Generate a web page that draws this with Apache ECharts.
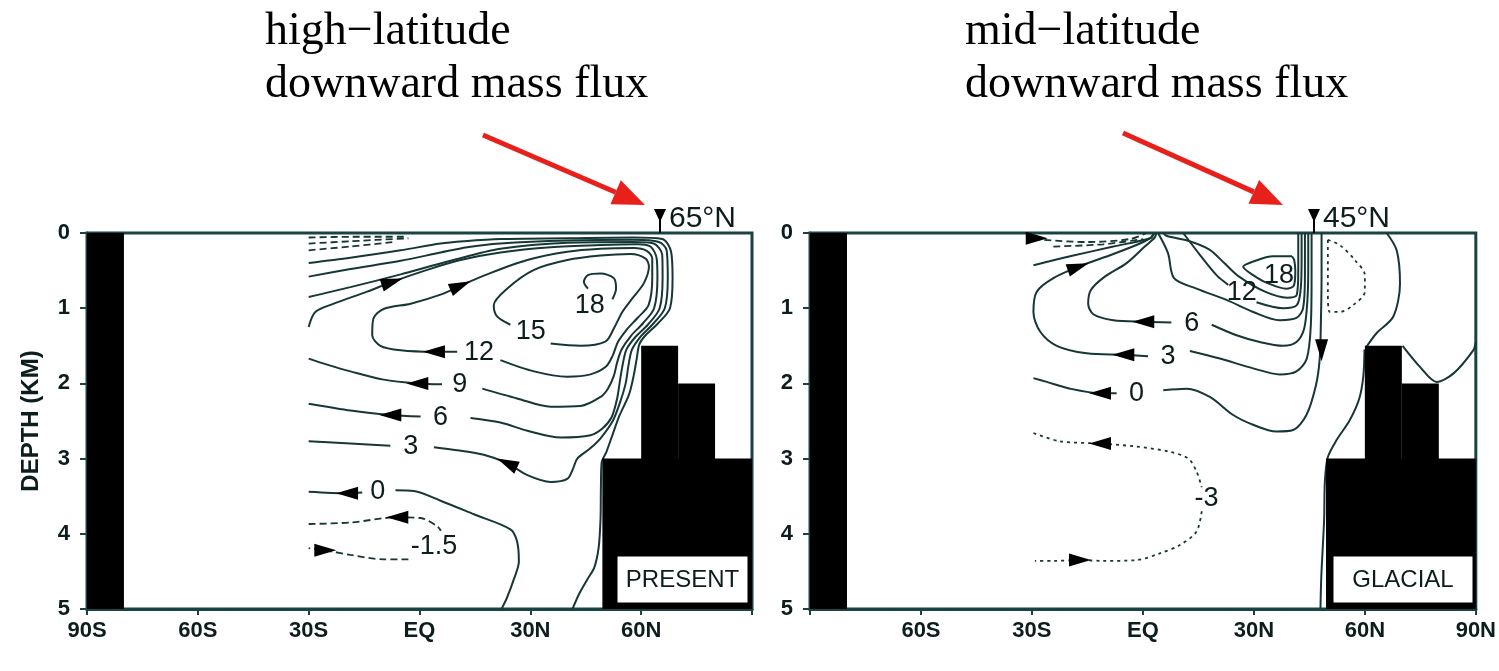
<!DOCTYPE html>
<html>
<head>
<meta charset="utf-8">
<title>Meridional overturning: present vs glacial</title>
<script src="https://cdn.jsdelivr.net/npm/echarts@6/dist/echarts.min.js"></script>
<style>
  html, body { margin: 0; padding: 0; background: #fff; }
  #chart { width: 1499px; height: 671px; }
</style>
</head>
<body>
<div id="chart"></div>
<script>
// latitude in degrees (south negative), depth in km
const latMin = -90, latMax = 90, latStep = 30;
const depthMin = 0, depthMax = 5, depthStep = 1;

// land / sea floor: [latFrom, latTo, depthTop, depthBottom]
const presentTopo = [[-90, -80, 0, 5], [60, 70, 1.5, 5], [70, 80, 2, 5], [49.5, 90, 3, 5]];
const glacialTopo = [[-90, -80, 0, 5], [60, 70, 1.5, 5], [70, 80, 2, 5], [49.5, 90, 3, 5]];

// ---- PRESENT contours (Sv) ----
const presentC18 = [[52.2,0.88],[53.2,0.74],[52.6,0.60],[49.0,0.54],[45.6,0.56],[44.5,0.65],[45.6,0.74]];
const presentC15 = [[35.5,1.47],[43.6,1.50],[50.4,1.44],[52.6,1.27],[54.9,1.05],[57.6,0.87],[60.7,0.67],[62.1,0.45],[61.2,0.34],[57.1,0.28],[49.0,0.30],[40.0,0.36],[31.0,0.49],[23.7,0.74],[20.1,0.96],[21.0,1.11],[24.6,1.22]];
const presentC12 = [[21.9,1.69],[31.0,1.84],[40.0,1.91],[46.3,1.88],[50.4,1.78],[52.3,1.63],[53.7,1.45],[56.0,1.29],[59.0,1.13],[62.0,0.96],[63.0,0.60],[63.0,0.34],[61.6,0.24],[58.0,0.20],[49.0,0.21],[40.0,0.25],[29.2,0.36],[18.3,0.55],[11.1,0.70],[5.7,0.82],[-2.4,0.94],[-9.7,1.01],[-12.5,1.14],[-12.8,1.36],[-10.6,1.50],[-5.1,1.56],[3.9,1.58],[10.2,1.58]];
const presentC9a = [[-30,1.67],[-25,1.75],[-18.7,1.84],[-9.7,1.95],[-0.6,2.00],[6.1,2.01]];
const presentC9b = [[17.0,2.07],[26.4,2.20],[35.5,2.31],[43.6,2.30],[49.0,2.18],[51.0,2.07],[52.6,1.90],[53.5,1.72],[54.7,1.55],[57.2,1.37],[60.5,1.20],[63.5,1.00],[64.4,0.60],[64.2,0.34],[62.5,0.18],[58.9,0.15],[49.0,0.16],[35.5,0.19],[21.9,0.26],[11.1,0.36],[2.1,0.49],[-7.4,0.65],[-14.2,0.78],[-23.2,0.94],[-28.2,1.05],[-30,1.25]];
const presentC6a = [[-30,2.27],[-25,2.31],[-18.7,2.36],[-7.9,2.42],[0.3,2.44]];
const presentC6b = [[13.8,2.46],[21.9,2.52],[29.2,2.63],[38.2,2.72],[46.3,2.69],[49.5,2.60],[52.0,2.45],[53.5,2.20],[54.3,1.95],[55.0,1.75],[56.0,1.55],[58.5,1.38],[61.8,1.22],[65.0,1.00],[65.8,0.60],[65.7,0.29],[63.4,0.14],[58.0,0.12],[40.0,0.13],[21.9,0.21],[8.4,0.37],[-5.1,0.55],[-18.7,0.72],[-30,0.85]];
const presentC3a = [[-30,2.77],[-18.7,2.80],[-7.9,2.83]];
const presentC3b = [[3.9,2.85],[10.2,2.89],[17.4,2.95],[23.7,3.06],[29.2,3.22],[35.5,3.31],[40.0,3.27],[41.6,3.13],[42.7,3.00],[46.3,2.86],[49.0,2.73],[52.3,2.50],[54.3,2.25],[55.8,2.00],[56.6,1.75],[57.5,1.55],[59.8,1.38],[63.0,1.22],[66.4,1.00],[67.2,0.60],[66.9,0.23],[64.8,0.12],[58.0,0.09],[40.0,0.10],[21.9,0.14],[12.9,0.19],[5.7,0.26],[-5.1,0.37],[-18.7,0.48],[-30,0.58]];
const presentC0a = [[-30,3.44],[-19.6,3.46],[-15.5,3.45]];
const presentC0b = [[-6.5,3.42],[-1.5,3.43],[5.7,3.56],[14.7,3.74],[24.6,3.94],[26.4,4.10],[26.9,4.37],[25.5,4.61],[23.6,4.86],[22.2,5.0]];
const presentC0c = [[-30,0.40],[-18.7,0.33],[-5.1,0.23],[5.7,0.14],[12.0,0.11],[21.9,0.08],[40.0,0.07],[58.0,0.06],[65.7,0.08],[68.1,0.25],[68.5,0.60],[67.8,1.00],[64.4,1.21],[61.2,1.36],[59.5,1.48],[58.8,1.67],[58.0,1.89],[56.7,2.15],[54.2,2.42],[52.2,2.69],[50.6,2.91],[49.3,3.05],[49.1,3.40],[49.0,3.80],[48.5,4.18],[47.3,4.45],[45.5,4.60],[43.2,4.80],[41.4,5.0]];
const presentM15a = [[-30,3.87],[-18.7,3.85],[-6.0,3.78],[0.3,3.79],[4.8,3.90],[5.8,3.96]];
const presentM15b = [[-3.0,4.34],[-9.7,4.34],[-18.7,4.28],[-25.5,4.22],[-30,4.19]];
const presentSurf1 = [[-30,0.06],[-18,0.05],[-4,0.05]];
const presentSurf2 = [[-30,0.14],[-18.7,0.11],[-3,0.07]];
const presentSurf3 = [[-30,0.23],[-18.7,0.18],[-7,0.12]];

// [lat, depth, text]
const presentLabels = [[46.1,0.96,'18'],[30.1,1.31,'15'],[16.1,1.59,'12'],[10.9,2.02,'9'],[5.7,2.45,'6'],[-2.4,2.84,'3'],[-11.3,3.44,'0'],[3.9,4.17,'-1.5']];
// [lat, depth, heading in degrees counter-clockwise from "up"]
const presentArrows = [[3.9,1.58,90],[11.1,0.70,-67],[-0.6,2.00,90],[-7.4,0.65,-72],[-7.9,2.42,90],[23.7,3.06,65],[-19.6,3.46,90],[-6.0,3.78,90],[-25.5,4.22,-90]];

// ---- GLACIAL contours (Sv) ----
const glacialC18 = [[40.3,0.31],[35.2,0.31],[29.8,0.38],[27.1,0.45],[29.8,0.56],[33.4,0.66],[38.8,0.74],[40.8,0.70],[41.2,0.51],[40.9,0.36],[40.3,0.31]];
const glacialC15 = [[42.0,0.0],[42.0,0.50],[41.6,0.82],[39.0,0.86],[33.0,0.78],[26.0,0.58],[22.0,0.40],[18.0,0.22],[12.0,0.10],[6.5,0.04],[5.5,0.0]];
const glacialC12a = [[10.9,0.0],[15.4,0.29],[19.9,0.56],[23.1,0.69]];
const glacialC12b = [[30.7,0.92],[37.9,1.00],[41.6,0.96],[42.7,0.72],[42.9,0.34],[42.9,0.0]];
const glacialC9 = [[4.1,0.0],[6.8,0.27],[8.4,0.60],[14.5,0.74],[22.6,0.89],[29.8,1.05],[37.0,1.16],[41.5,1.13],[43.3,1.00],[43.8,0.56],[43.8,0.0]];
const glacialC6a = [[7.7,1.19],[0.1,1.18],[-8.0,1.16],[-13.4,1.08],[-14.8,0.94],[-14.1,0.76],[-10.3,0.58],[-4.4,0.40],[0.5,0.18],[3.2,0.06],[3.6,0.0]];
const glacialC6b = [[18.6,1.22],[25.3,1.36],[31.6,1.45],[37.9,1.50],[41.5,1.45],[43.6,1.27],[44.5,0.87],[44.7,0.43],[44.7,0.0]];
const glacialC3a = [[1.4,1.64],[-5.3,1.62],[-15.2,1.60],[-23.3,1.50],[-27.8,1.31],[-29.6,1.05],[-28.7,0.78],[-24.2,0.60],[-17.5,0.45],[-8.0,0.28],[-0.8,0.14],[2.3,0.06],[3.0,0.0]];
const glacialC3b = [[12.7,1.57],[20.8,1.67],[29.8,1.80],[37.0,1.88],[41.5,1.84],[44.3,1.67],[45.4,1.22],[45.6,0.56],[45.6,0.0]];
const glacialC0a = [[-29.6,1.93],[-26.0,1.98],[-19.7,2.07],[-11.6,2.13],[-7.1,2.13]];
const glacialC0b = [[5.5,2.09],[11.8,2.07],[18.1,2.18],[24.4,2.42],[29.8,2.55],[36.1,2.64],[40.6,2.62],[44.2,2.42],[46.8,2.02],[47.8,1.67],[48.1,1.22],[48.3,0.56],[48.3,0.0]];
const glacialC0c = [[-29.6,0.43],[-19.7,0.31],[-8.0,0.18],[1.9,0.07],[3.0,0.0]];
const glacialArcA = [[65.9,0.0],[68.6,0.23],[69.5,0.67],[67.7,1.11],[63.2,1.33],[60.5,1.51]];
const glacialArcB = [[70.2,1.50],[74.9,1.78],[79.4,1.98],[83.9,1.87],[89.3,1.56],[90,1.45]];
const glacialArcC = [[48.0,5.0],[48.2,4.6],[48.6,4.2],[49.0,3.8],[49.2,3.3],[50.0,2.98],[52.4,2.75],[55.9,2.49],[58.5,2.20],[59.6,1.90],[59.9,1.55]];
const glacialNegN = [[50.0,0.09],[53.2,0.16],[57.3,0.36],[60.0,0.56],[60.0,0.78],[56.8,0.96],[53.2,1.05],[50.5,1.05],[50.0,0.78],[50.0,0.43],[50.0,0.09]];
const glacialM3a = [[-29.6,2.66],[-22.4,2.77],[-11.6,2.80],[-1.7,2.84],[7.3,2.91],[12.3,3.00],[14.5,3.17],[15.9,3.38]];
const glacialM3b = [[15.9,3.70],[14.5,3.97],[10.0,4.15],[4.6,4.26],[-1.7,4.35],[-10.7,4.36],[-17.0,4.35],[-24.2,4.36],[-29.2,4.36]];
const glacialSurf1 = [[-29.6,0.08],[-15.2,0.12],[-3.5,0.08],[1.0,0.0]];
const glacialSurf2 = [[-24.2,0.18],[-10.7,0.15],[0.1,0.08]];

const glacialLabels = [[36.8,0.56,'18'],[26.7,0.79,'12'],[13.2,1.20,'6'],[6.8,1.64,'3'],[-1.7,2.13,'0'],[17.2,3.53,'-3']];
const glacialArrows = [[-11.6,2.13,90],[-5.3,1.62,90],[-17.5,0.45,-71],[0.1,1.18,90],[48.3,1.56,180],[-11.6,2.80,90],[-17.0,4.35,-90],[-28.7,0.07,-90]];

const LINE = '#173636';
const TEXT = '#0d1c1c';
const FRAME = '#1a4444';

function latName(v) {
  if (v === 0) return 'EQ';
  return Math.abs(v) + (v < 0 ? 'S' : 'N');
}

function contour(idx, pts, style) {
  let type = 'solid', width = 2;
  if (style === 'dash') { type = [7, 4]; width = 1.8; }
  if (style === 'dot') { type = [3, 4]; width = 1.8; }
  return {
    type: 'line', xAxisIndex: idx, yAxisIndex: idx, data: pts,
    showSymbol: false, smooth: 0.3, silent: true, z: 2,
    lineStyle: { color: LINE, width: width, type: type }
  };
}

function topoSeries(idx, topo) {
  return {
    type: 'custom', xAxisIndex: idx, yAxisIndex: idx, data: topo, z: 5, silent: true,
    encode: { x: [0, 1], y: [2, 3] },
    renderItem: function (params, api) {
      const a = api.coord([api.value(0), api.value(2)]);
      const b = api.coord([api.value(1), api.value(3)]);
      return { type: 'rect', shape: { x: a[0], y: a[1], width: b[0] - a[0], height: b[1] - a[1] }, style: { fill: '#000' } };
    }
  };
}

function labelSeries(idx, labels) {
  return {
    type: 'scatter', xAxisIndex: idx, yAxisIndex: idx, z: 4, silent: true,
    symbolSize: 1, itemStyle: { color: 'transparent', opacity: 1 },
    data: labels.map(l => ({ value: [l[0], l[1]], name: l[2] })),
    label: { show: true, position: 'inside', formatter: '{b}', fontSize: 27, color: TEXT, fontFamily: 'Liberation Sans' }
  };
}

function arrowSeries(idx, arrows) {
  return {
    type: 'scatter', xAxisIndex: idx, yAxisIndex: idx, z: 4, silent: true,
    symbol: 'triangle', symbolSize: [13, 22], itemStyle: { color: '#000', opacity: 1 },
    data: arrows.map(a => ({ value: [a[0], a[1]], symbolRotate: a[2] }))
  };
}

function xAx(idx, hide) {
  return {
    type: 'value', gridIndex: idx, min: latMin, max: latMax, interval: latStep,
    axisLine: { onZero: false, lineStyle: { color: FRAME, width: 3 } },
    axisTick: { length: 6, lineStyle: { color: FRAME, width: 2 } },
    splitLine: { show: false },
    axisLabel: { margin: 11, fontSize: 22, fontWeight: 'bold', color: TEXT, fontFamily: 'Liberation Sans',
      formatter: v => (v === hide ? '' : latName(v)) }
  };
}

function yAx(idx, withName) {
  const ax = {
    type: 'value', gridIndex: idx, inverse: true, min: depthMin, max: depthMax, interval: depthStep,
    axisLine: { onZero: false, lineStyle: { color: FRAME, width: 3 } },
    axisTick: { length: 7, lineStyle: { color: FRAME, width: 2 } },
    splitLine: { show: false },
    axisLabel: { margin: 17, fontSize: 22, fontWeight: 'bold', color: TEXT, fontFamily: 'Liberation Sans' }
  };
  if (withName) {
    ax.name = 'DEPTH (KM)';
    ax.nameLocation = 'middle';
    ax.nameRotate = 90;
    ax.nameGap = 44;
    ax.nameTextStyle = { fontSize: 24, fontWeight: 'bold', color: TEXT, fontFamily: 'Liberation Sans' };
  }
  return ax;
}

function redArrow(x0, y0, x1, y1) {
  const dx = x1 - x0, dy = y1 - y0, len = Math.sqrt(dx * dx + dy * dy);
  const ux = dx / len, uy = dy / len, head = 32, half = 13;
  const bx = x1 - ux * head, by = y1 - uy * head;
  return [
    { type: 'line', shape: { x1: x0, y1: y0, x2: bx, y2: by }, style: { stroke: '#e8201c', lineWidth: 5 }, z: 10 },
    { type: 'polygon', shape: { points: [[x1, y1], [bx - uy * half, by + ux * half], [bx + uy * half, by - ux * half]] }, style: { fill: '#e8201c' }, z: 10 }
  ];
}

function note(x, y, txt) {
  return { type: 'text', x: x, y: y, z: 10,
    style: { text: txt, font: '46px "Liberation Serif"', fill: '#000', textAlign: 'left', textVerticalAlign: 'middle', verticalAlign: 'middle' } };
}

function marker(x, txt) {
  return [
    { type: 'line', shape: { x1: x, y1: 210, x2: x, y2: 233 }, style: { stroke: '#000', lineWidth: 2 }, z: 10 },
    { type: 'polygon', shape: { points: [[x - 6, 209], [x + 6, 209], [x, 222]] }, style: { fill: '#000' }, z: 10 },
    { type: 'text', x: x + 9, y: 219, z: 10,
      style: { text: txt, font: '30px "Liberation Sans"', fill: TEXT, textAlign: 'left', textVerticalAlign: 'middle', verticalAlign: 'middle' } }
  ];
}

function caseBox(x, y, w, h, txt) {
  return [
    { type: 'rect', shape: { x: x, y: y, width: w, height: h }, style: { fill: '#fff', stroke: '#000', lineWidth: 1 }, z: 10 },
    { type: 'text', x: x + w / 2, y: y + h / 2 + 1, z: 11,
      style: { text: txt, font: '24px "Liberation Sans"', fill: TEXT, textAlign: 'center', textVerticalAlign: 'middle', verticalAlign: 'middle' } }
  ];
}

const series = [
  contour(0, presentC18), contour(0, presentC15), contour(0, presentC12),
  contour(0, presentC9a), contour(0, presentC9b), contour(0, presentC6a), contour(0, presentC6b),
  contour(0, presentC3a), contour(0, presentC3b), contour(0, presentC0a), contour(0, presentC0b), contour(0, presentC0c),
  contour(0, presentM15a, 'dash'), contour(0, presentM15b, 'dash'),
  contour(0, presentSurf1, 'dash'), contour(0, presentSurf2, 'dash'), contour(0, presentSurf3, 'dash'),
  labelSeries(0, presentLabels), arrowSeries(0, presentArrows), topoSeries(0, presentTopo),

  contour(1, glacialC18), contour(1, glacialC15), contour(1, glacialC12a), contour(1, glacialC12b), contour(1, glacialC9),
  contour(1, glacialC6a), contour(1, glacialC6b), contour(1, glacialC3a), contour(1, glacialC3b),
  contour(1, glacialC0a), contour(1, glacialC0b), contour(1, glacialC0c),
  contour(1, glacialArcA), contour(1, glacialArcB), contour(1, glacialArcC),
  contour(1, glacialNegN, 'dot'), contour(1, glacialM3a, 'dot'), contour(1, glacialM3b, 'dot'),
  contour(1, glacialSurf1, 'dash'), contour(1, glacialSurf2, 'dash'),
  labelSeries(1, glacialLabels), arrowSeries(1, glacialArrows), topoSeries(1, glacialTopo)
];

const graphic = [].concat(
  note(265, 32, 'high\u2212latitude'), note(265, 85, 'downward mass flux'),
  note(965, 32, 'mid\u2212latitude'), note(965, 85, 'downward mass flux'),
  redArrow(483, 135, 645, 205), redArrow(1123, 133, 1283, 205),
  marker(660, '65°N'), marker(1314, '45°N'),
  caseBox(617, 556, 131, 47, 'PRESENT'), caseBox(1333, 556, 140, 47, 'GLACIAL')
);

const chart = echarts.init(document.getElementById('chart'));
chart.setOption({
  animation: false,
  backgroundColor: '#fff',
  grid: [
    { left: 87, top: 233, width: 665, height: 376, show: true, borderColor: FRAME, borderWidth: 3, backgroundColor: '#fff' },
    { left: 810, top: 233, width: 666, height: 376, show: true, borderColor: FRAME, borderWidth: 3, backgroundColor: '#fff' }
  ],
  xAxis: [xAx(0, 90), xAx(1, -90)],
  yAxis: [yAx(0, true), yAx(1, false)],
  series: series,
  graphic: graphic
});
</script>
</body>
</html>
